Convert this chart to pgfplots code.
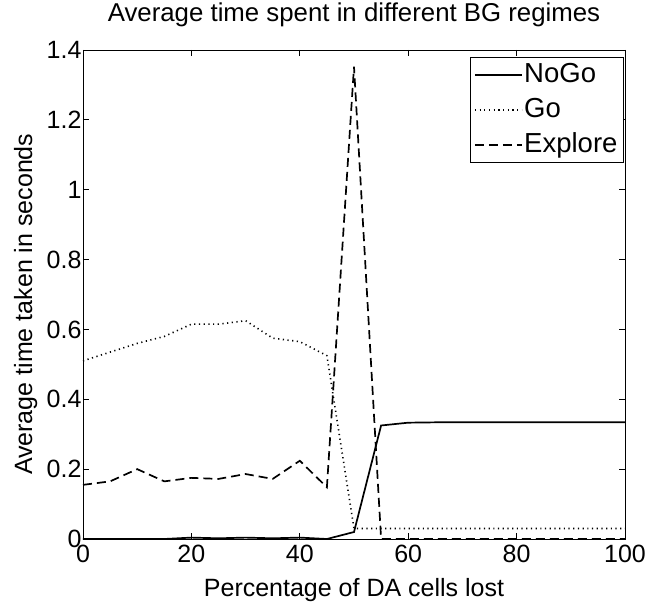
\documentclass[border=0pt]{standalone}
\usepackage{fontspec}
\setmainfont{Liberation Sans}
\usepackage{pgfplots}
\pgfplotsset{compat=1.18}
\begin{document}
\begin{tikzpicture}
\begin{axis}[
  name=ax,
  scale only axis, width=542pt, height=489pt,
  xmin=0, xmax=100, ymin=0, ymax=1.4,
  xtick={0,20,40,60,80,100},
  ytick={0,0.2,0.4,0.6,0.8,1,1.2,1.4},
  yticklabels={0,0.2,0.4,0.6,0.8,1,1.2,1.4},
  tick align=inside, major tick length=6pt,
  axis line style={line width=0.8pt},
  tick style={line width=0.8pt, black},
  /pgf/number format/assume math mode=true,
  ticklabel style={font=\fontsize{25}{25}\selectfont},
  xticklabel style={yshift=-2.5pt},
  yticklabel style={xshift=2pt},
  title={Average time spent in different BG regimes},
  title style={font=\fontsize{25.8}{26}\selectfont, at={(axis description cs:0.5,1.046)}, anchor=base},
  xlabel={Percentage of DA cells lost},
  xlabel style={font=\fontsize{25}{25}\selectfont, at={(axis description cs:0.5,-0.1186)}, anchor=base},
  ylabel={Average time taken in seconds},
  ylabel style={font=\fontsize{25}{25}\selectfont, at={(axis description cs:-0.094,0.48)}, anchor=base},
  legend style={at={(axis description cs:0.997,0.985)}, anchor=north east,
    font=\fontsize{27.5}{27.5}\selectfont, draw=black, line width=0.8pt,
    inner xsep=4pt, inner ysep=4pt, row sep=8pt,
    nodes={inner xsep=1.5pt, inner ysep=1pt, text height=20pt, text depth=5pt}},
  legend cell align=left,
  legend image code/.code={\draw[#1] (0pt,0pt) -- (47pt,0pt);},
]
\addplot[black, line width=1.7pt] coordinates {
(0,0) (5,0) (10,0) (15,0) (20,0.004) (25,0.002) (30,0.004) (35,0.002) (40,0.004) (45,0) (50,0.02)
(55,0.325) (60,0.333) (65,0.334) (70,0.334) (75,0.334) (80,0.334) (85,0.334) (90,0.334) (95,0.334) (100,0.334)};
\addlegendentry{NoGo}
\addplot[black, line width=1.6pt, dash pattern=on 1.2pt off 3.5pt] coordinates {
(0,0.51) (5,0.535) (10,0.56) (15,0.58) (20,0.615) (25,0.615) (30,0.625) (35,0.575) (40,0.565) (45,0.525) (50,0.03)
(55,0.03) (60,0.03) (65,0.03) (70,0.03) (75,0.03) (80,0.03) (85,0.03) (90,0.03) (95,0.03) (100,0.03)};
\addlegendentry{Go}
\addplot[black, line width=1.7pt, dash pattern=on 9pt off 5pt] coordinates {
(0,0.155) (5,0.165) (10,0.2) (15,0.165) (20,0.175) (25,0.172) (30,0.186) (35,0.172) (40,0.224) (45,0.148) (50,1.352)
(55,0) (60,0) (65,0) (70,0) (75,0) (80,0) (85,0) (90,0) (95,0) (100,0)};
\addlegendentry{Explore}
\end{axis}
\pgfresetboundingbox
\path[use as bounding box] ([shift={(-83pt,-65pt)}]ax.south west) rectangle ([shift={(22pt,50pt)}]ax.north east);
\end{tikzpicture}
\end{document}
